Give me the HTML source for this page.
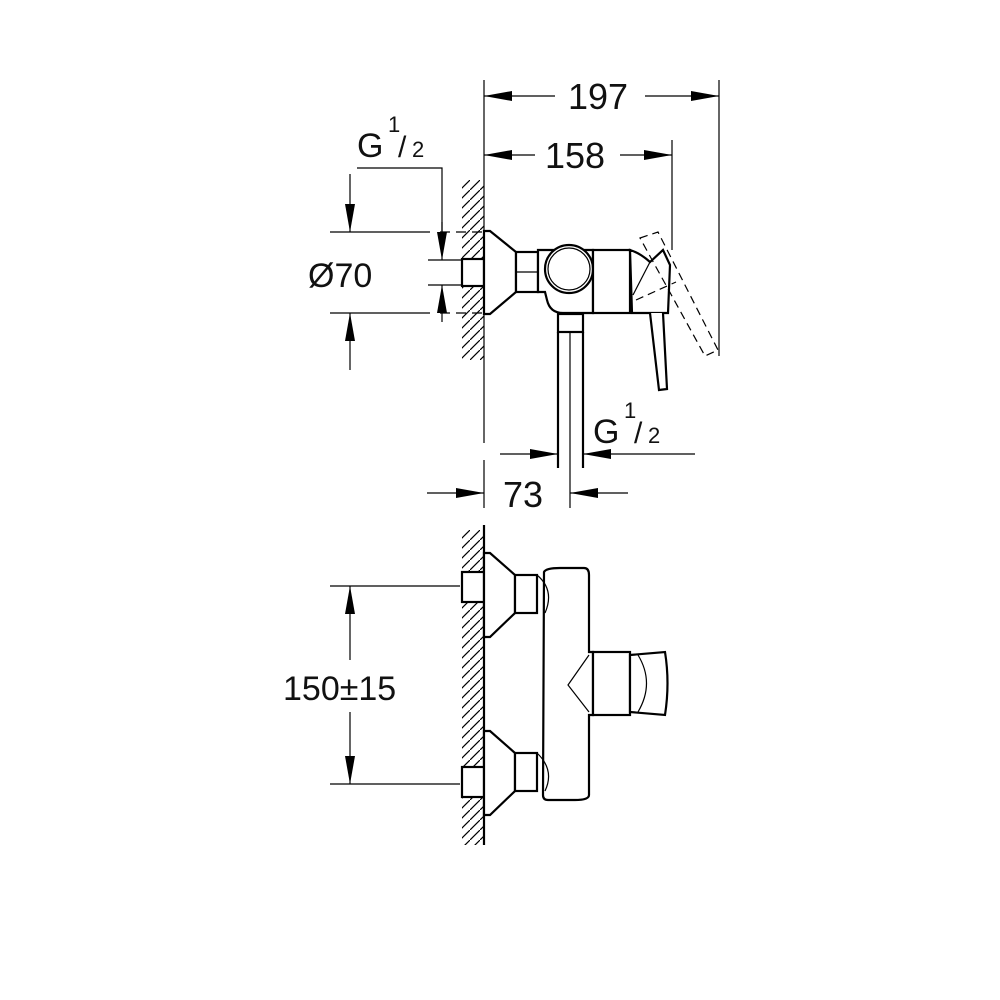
<!DOCTYPE html>
<html><head><style>body{margin:0;background:#fff}svg{display:block}text{font-family:"Liberation Sans",sans-serif;fill:#111}</style></head>
<body>
<svg width="1000" height="1000" viewBox="0 0 1000 1000" xmlns="http://www.w3.org/2000/svg">
<defs>
<marker id="a" viewBox="0 0 10 6" refX="10" refY="3" markerWidth="10" markerHeight="6" markerUnits="userSpaceOnUse" orient="auto"><path d="M0,0L10,3L0,6z" fill="#000"/></marker>
<marker id="A" viewBox="0 0 28 10" refX="28" refY="5" markerWidth="28" markerHeight="10" markerUnits="userSpaceOnUse" orient="auto"><path d="M0,0L28,5L0,10z" fill="#000"/></marker>
<pattern id="h" width="10" height="10" patternUnits="userSpaceOnUse"><path d="M-2,12L12,-2" stroke="#000" stroke-width="1.2"/></pattern>
</defs>
<g stroke="#000" fill="none" stroke-width="1.2">
<!-- top dims -->
<line x1="484" y1="80" x2="484" y2="443"/>
<line x1="484" y1="460" x2="484" y2="508"/>
<line x1="719" y1="80" x2="719" y2="356"/>
<line x1="672" y1="140" x2="672" y2="250"/>
<line x1="555" y1="96" x2="484" y2="96" marker-end="url(#A)"/>
<line x1="645" y1="96" x2="719" y2="96" marker-end="url(#A)"/>
<line x1="535" y1="155" x2="484" y2="155" marker-end="url(#A)"/>
<line x1="620" y1="155" x2="672" y2="155" marker-end="url(#A)"/>
<!-- G1/2 top -->
<polyline points="357,168 442,168 442,232"/>
<line x1="350" y1="174" x2="350" y2="232" marker-end="url(#A)"/>
<line x1="350" y1="370" x2="350" y2="313" marker-end="url(#A)"/>
<line x1="330" y1="232" x2="430" y2="232"/><line x1="440" y1="232" x2="484" y2="232" stroke-dasharray="10,6"/>
<line x1="330" y1="313" x2="430" y2="313"/><line x1="440" y1="313" x2="484" y2="313" stroke-dasharray="10,6"/>
<line x1="428" y1="260" x2="466" y2="260"/><line x1="428" y1="285" x2="466" y2="285"/>
<line x1="442" y1="222" x2="442" y2="260" marker-end="url(#A)"/>
<line x1="442" y1="322" x2="442" y2="285" marker-end="url(#A)"/>
<!-- hatch top -->
<rect x="462" y="180" width="22" height="180" fill="url(#h)" stroke="none"/>
<rect x="462" y="530" width="22" height="315" fill="url(#h)" stroke="none"/>
</g>
<g stroke="#000" fill="#fff" stroke-width="2.2">
<!-- top view device -->
<rect x="462" y="259" width="22" height="27"/>
<path d="M484,231 L490,231 L516,252 L516,292 L490,314 L484,314Z"/>
<rect x="516" y="252" width="22" height="40"/>
<line x1="516" y1="272" x2="538" y2="272" stroke-width="1.2"/>
<path d="M538,250 L593,250 L593,313 L563,313 Q550,313 547,300 L545,292 L538,292Z"/>
<circle cx="569" cy="269" r="24"/><circle cx="569" cy="269" r="21" stroke-width="1.2"/>
<rect x="558" y="314" width="25" height="18"/>
<line x1="558" y1="332" x2="558" y2="468"/><line x1="583" y1="332" x2="583" y2="468"/>
<line x1="570" y1="332" x2="570" y2="508" stroke-width="1.2"/>
<rect x="593" y="250" width="37" height="63"/>
<path d="M630,250 Q640,253 650,262 L663,250 L670,265 L668,313 L640,313 L632,313Z" />
<path d="M650,262 L633,295" stroke-width="1.2"/>
<path d="M650,313 L659,390 L667,389 L663,313" />
<g stroke-width="1.2" stroke-dasharray="8,5" fill="none"><path d="M640,238 L658,232 L718,350 L705,356Z"/><path d="M636,300 L676,282"/></g>
<!-- bottom view -->
<line x1="484" y1="525" x2="484" y2="845"/>
<rect x="462" y="572" width="22" height="30"/>
<path d="M484,553 L490,553 L515,575 L515,613 L490,637 L484,637Z"/>
<rect x="515" y="575" width="22" height="38"/>
<rect x="462" y="767" width="22" height="30"/>
<path d="M484,731 L490,731 L515,753 L515,791 L490,815 L484,815Z"/>
<rect x="515" y="753" width="22" height="38"/>
<path d="M544,572 Q546,568 560,568 L584,568 Q589,568 589,575 L589,652 L593,652 L593,715 L589,715 L589,795 Q589,800 575,800 L548,800 Q543,800 543,795Z"/>
<path d="M537,575 Q555,590 545,613 M537,753 Q555,770 545,791" stroke-width="1.2" fill="none"/>
<path d="M589,655 L568,685 L589,712" stroke-width="1.2" fill="none"/>
<rect x="593" y="652" width="37" height="63"/>
<path d="M630,655 L665,652 Q670,683 665,715 L630,712Z"/>
<path d="M638,655 Q655,683 638,712" stroke-width="1.2" fill="none"/>
</g>
<g stroke="#000" stroke-width="1.2" fill="none">
<line x1="330" y1="586" x2="460" y2="586"/><line x1="330" y1="784" x2="460" y2="784"/>
<line x1="350" y1="660" x2="350" y2="586" marker-end="url(#A)"/>
<line x1="350" y1="712" x2="350" y2="784" marker-end="url(#A)"/>
<!-- lower dims -->
<line x1="500" y1="454" x2="558" y2="454" marker-end="url(#A)"/>
<line x1="695" y1="454" x2="583" y2="454" marker-end="url(#A)"/>
<line x1="427" y1="493" x2="484" y2="493" marker-end="url(#A)"/>
<line x1="628" y1="493" x2="570" y2="493" marker-end="url(#A)"/>
</g>
<text x="568" y="109" font-size="36">197</text>
<text x="545" y="168" font-size="36">158</text>
<text x="357" y="157" font-size="34">G</text><text x="388" y="132" font-size="22">1</text><text x="398" y="157" font-size="30">/</text><text x="412" y="157" font-size="22">2</text>
<text x="308" y="287" font-size="34">Ø70</text>
<text x="593" y="443" font-size="34">G</text><text x="624" y="418" font-size="22">1</text><text x="634" y="443" font-size="30">/</text><text x="648" y="443" font-size="22">2</text>
<text x="503" y="507" font-size="36">73</text>
<text x="283" y="700" font-size="34">150±15</text>
</svg>
</body></html>
